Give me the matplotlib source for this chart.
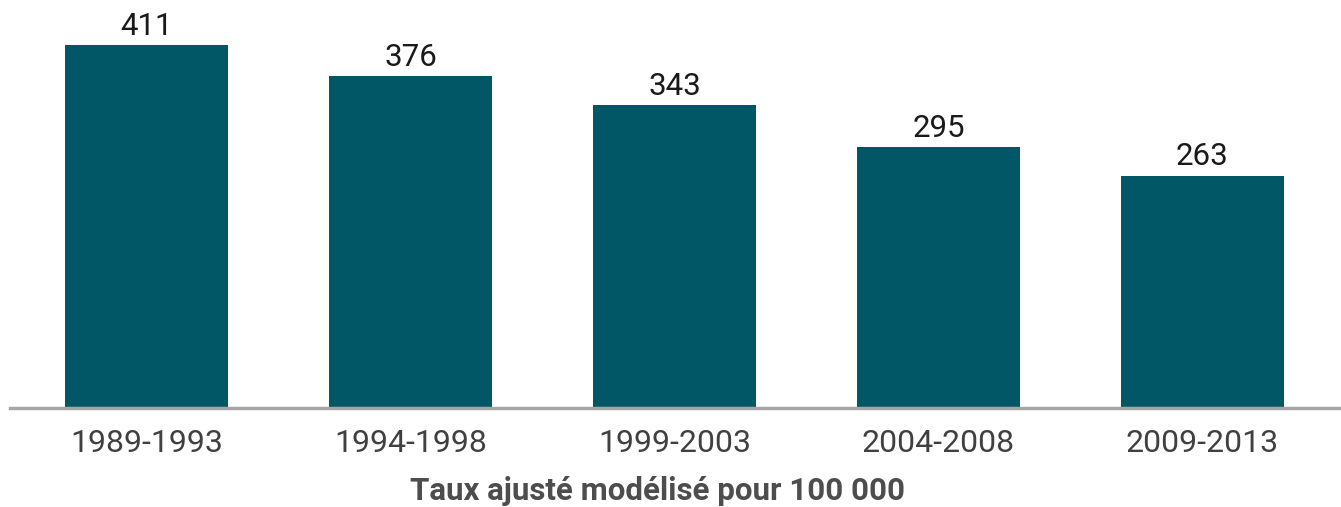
import matplotlib
matplotlib.use("Agg")
import matplotlib.pyplot as plt
import numpy as np

periods = ["1989-1993", "1994-1998", "1999-2003", "2004-2008", "2009-2013"]
rates = [411, 376, 343, 295, 263]

plt.rcParams['font.family'] = ['Roboto', 'DejaVu Sans']

fig = plt.figure(figsize=(13.41, 5.07), dpi=100)
ax = fig.add_axes([10 / 1341, 99 / 507, 1331 / 1341, 408 / 507])

x = np.arange(len(periods))
bars = ax.bar(x, rates, width=0.617, color='#025767', zorder=2)

for b, v in zip(bars, rates):
    ax.text(b.get_x() + b.get_width() / 2, v + 5, str(v),
            ha='center', va='bottom', fontsize=22.5, color='#1a1a1a')

ax.set_xlim(-0.517, 4.525)
ax.set_ylim(0, 462)
ax.set_xticks(x)
ax.set_xticklabels(periods, fontsize=23, color='#404040')
ax.tick_params(axis='x', length=0, pad=15)
ax.set_yticks([])

for s in ['top', 'right', 'left']:
    ax.spines[s].set_visible(False)
ax.spines['bottom'].set_color('#a6a6a6')
ax.spines['bottom'].set_linewidth(2.5)

fig.text(657 / 1341, 1 - 491 / 507, "Taux ajusté modélisé pour 100 000",
         ha='center', va='center', fontsize=22.5, fontweight='bold', color='#4d4d4d')

fig.savefig("out.png", dpi=100)
